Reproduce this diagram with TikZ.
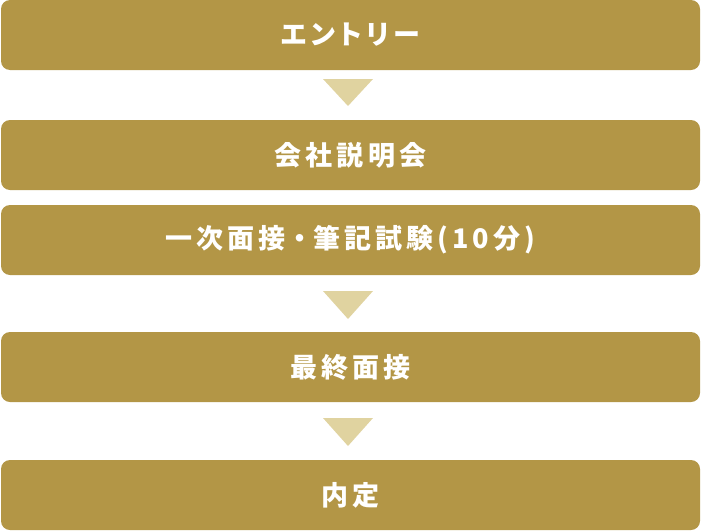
\documentclass[tikz,border=0pt]{standalone}
\usepackage{fontspec}
\newfontfamily\jpfont{Noto Sans CJK JP}[RawFeature=+palt, LetterSpace=15]
\definecolor{gold}{HTML}{B39646}
\definecolor{lightgold}{HTML}{E0D3A0}
\tikzset{
  stepbox/.style={fill=gold, rounded corners=9pt, minimum width=699pt,
    minimum height=70pt, inner sep=0pt, text=white,
    font=\jpfont\bfseries\fontsize{27pt}{30pt}\selectfont},
  downtri/.style={fill=lightgold}
}
\begin{document}
\begin{tikzpicture}[x=1pt, y=-1pt]
\useasboundingbox (0,0) rectangle (701,530);
\node[stepbox] (entry) at (350.5,35) {エントリー};
\node[stepbox] (setsumei) at (350.5,155) {会社説明会};
\node[stepbox] (ichiji) at (350.5,240) {一次面接\kern7pt・\kern7pt筆記試験(10分)};
\node[stepbox] (saishu) at (350.5,367) {最終面接};
\node[stepbox] (naitei) at (350.5,495) {内定};

\fill[downtri] (323,79) -- (373,79) -- (348,106) -- cycle;
\fill[downtri] (323,291) -- (373,291) -- (348,319) -- cycle;
\fill[downtri] (323,418) -- (373,418) -- (348,446) -- cycle;
\end{tikzpicture}
\end{document}
